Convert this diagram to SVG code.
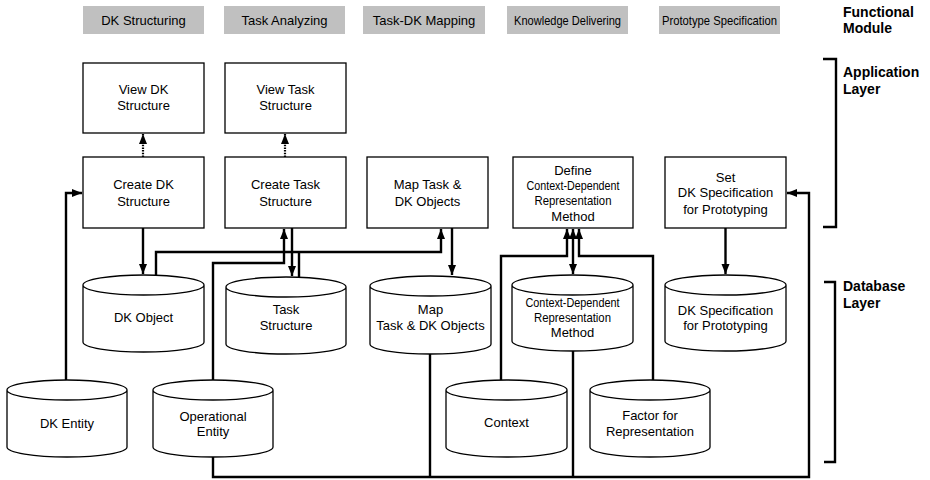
<svg xmlns="http://www.w3.org/2000/svg" width="930" height="480" viewBox="0 0 930 480">
<style>
text{font-family:"Liberation Sans",Arial,sans-serif;font-size:13px;fill:#000;text-anchor:middle}
.mod rect{fill:#c0c0c0;stroke:none}
.lbl{font-weight:bold;font-size:14px;text-anchor:start}
.box{fill:#fff;stroke:#000;stroke-width:1.3}
.cyl{fill:#fff;stroke:#000;stroke-width:1.3}
.c{fill:none;stroke:#000;stroke-width:2.4}
.dot{fill:none;stroke:#000;stroke-width:2.2;stroke-dasharray:1.5,1.2}
.br{fill:none;stroke:#000;stroke-width:2.4}
</style>
<defs>
<marker id="ah" markerUnits="userSpaceOnUse" markerWidth="10" markerHeight="10" viewBox="0 0 10 10" refX="10" refY="5" orient="auto-start-reverse">
<path d="M0,1 L10,5 L0,9 Z" fill="#000"/>
</marker>
</defs>
<rect width="930" height="480" fill="#fff"/>

<g id="modules" class="mod">
<rect x="83" y="6" width="121" height="28"/><text x="143.5" y="25">DK Structuring</text>
<rect x="224" y="6" width="121" height="28"/><text x="284.5" y="25">Task Analyzing</text>
<rect x="363" y="6" width="122" height="28"/><text x="424" y="25">Task-DK Mapping</text>
<rect x="507" y="6" width="121" height="28"/><text x="567.5" y="25" font-size="12.5" textLength="107" lengthAdjust="spacingAndGlyphs">Knowledge Delivering</text>
<rect x="659" y="6" width="121" height="28"/><text x="719.5" y="25" font-size="12.5" textLength="115" lengthAdjust="spacingAndGlyphs">Prototype Specification</text>
</g>

<g id="labels">
<text class="lbl" x="843" y="17">Functional</text>
<text class="lbl" x="843" y="33">Module</text>
<text class="lbl" x="843" y="77">Application</text>
<text class="lbl" x="843" y="94">Layer</text>
<text class="lbl" x="843" y="291">Database</text>
<text class="lbl" x="843" y="308">Layer</text>
<path class="br" d="M823,59 H836 V227 H823"/>
<path class="br" d="M824,282 H835 V462 H824"/>
</g>

<g id="connectors">
<path class="dot" d="M143,157 V134" marker-end="url(#ah)"/>
<path class="dot" d="M285,157 V134" marker-end="url(#ah)"/>
<path class="c" d="M66,380 V193 H82" marker-end="url(#ah)"/>
<path class="c" d="M143,228 V274" marker-end="url(#ah)"/>
<path class="c" d="M156,276 V252 H441 V229" marker-end="url(#ah)"/>
<path class="c" d="M299,277 V252"/>
<path class="c" d="M213,380 V263 H284 V229" marker-end="url(#ah)"/>
<path class="c" d="M292,228 V276" marker-end="url(#ah)"/>
<path class="c" d="M452,228 V275" marker-end="url(#ah)"/>
<path class="c" d="M213,457 V477 H809 V193 H787" marker-end="url(#ah)"/>
<path class="c" d="M430,354 V477"/>
<path class="c" d="M573,351 V477"/>
<path class="c" d="M573,229 V274" marker-start="url(#ah)" marker-end="url(#ah)"/>
<path class="c" d="M501,380 V256 H567 V229" marker-end="url(#ah)"/>
<path class="c" d="M653,380 V256 H579 V229" marker-end="url(#ah)"/>
<path class="c" d="M725.5,228 V274" marker-end="url(#ah)"/>
</g>

<g id="view-dk"><rect class="box" x="83" y="63" width="121" height="70"/><text x="143.5" y="94">View DK</text><text x="143.5" y="110">Structure</text></g>
<g id="view-task"><rect class="box" x="225" y="63" width="121" height="70"/><text x="285.5" y="94">View Task</text><text x="285.5" y="110">Structure</text></g>
<g id="create-dk"><rect class="box" x="83" y="157" width="121" height="71"/><text x="143.5" y="189">Create DK</text><text x="143.5" y="206">Structure</text></g>
<g id="create-task"><rect class="box" x="225" y="157" width="121" height="71"/><text x="285.5" y="189">Create Task</text><text x="285.5" y="206">Structure</text></g>
<g id="map-task"><rect class="box" x="367" y="157" width="121" height="71"/><text x="427.5" y="189">Map Task &amp;</text><text x="427.5" y="206">DK Objects</text></g>
<g id="define-cdrm"><rect class="box" x="513" y="157" width="120" height="71"/>
<text x="573" y="175" font-size="12">Define</text>
<text x="573" y="190" font-size="12" textLength="93" lengthAdjust="spacingAndGlyphs">Context-Dependent</text>
<text x="573" y="205" font-size="12" textLength="77" lengthAdjust="spacingAndGlyphs">Representation</text>
<text x="573" y="221" font-size="12">Method</text></g>
<g id="set-dkspec"><rect class="box" x="665" y="157" width="121" height="71"/>
<text x="725.5" y="182">Set</text><text x="725.5" y="197" font-size="12.2">DK Specification</text><text x="725.5" y="214" font-size="12.2">for Prototyping</text></g>

<g id="dk-object"><path class="cyl" d="M83,285 A60.5,10 0 0 1 204,285 V342 A60.5,10 0 0 1 83,342 Z M83,285 A60.5,10 0 0 0 204,285"/><text x="143.5" y="322">DK Object</text></g>
<g id="task-structure"><path class="cyl" d="M226,287 A60,10 0 0 1 346,287 V344 A60,10 0 0 1 226,344 Z M226,287 A60,10 0 0 0 346,287"/><text x="286" y="314">Task</text><text x="286" y="330">Structure</text></g>
<g id="map-objects"><path class="cyl" d="M370,286 A60.5,10 0 0 1 491,286 V344 A60.5,10 0 0 1 370,344 Z M370,286 A60.5,10 0 0 0 491,286"/><text x="430.5" y="314">Map</text><text x="430.5" y="330">Task &amp; DK Objects</text></g>
<g id="cdrm"><path class="cyl" d="M512,285 A60.5,10 0 0 1 633,285 V341 A60.5,10 0 0 1 512,341 Z M512,285 A60.5,10 0 0 0 633,285"/>
<text x="572.5" y="307" font-size="12" textLength="94" lengthAdjust="spacingAndGlyphs">Context-Dependent</text>
<text x="572.5" y="322" font-size="12" textLength="77" lengthAdjust="spacingAndGlyphs">Representation</text>
<text x="572.5" y="337" font-size="12">Method</text></g>
<g id="dk-spec"><path class="cyl" d="M665,285 A60.5,10 0 0 1 786,285 V341 A60.5,10 0 0 1 665,341 Z M665,285 A60.5,10 0 0 0 786,285"/><text x="725.5" y="315">DK Specification</text><text x="725.5" y="330">for Prototyping</text></g>

<g id="dk-entity"><path class="cyl" d="M7,390 A60,10 0 0 1 127,390 V447 A60,10 0 0 1 7,447 Z M7,390 A60,10 0 0 0 127,390"/><text x="67" y="428">DK Entity</text></g>
<g id="operational-entity"><path class="cyl" d="M153,390 A60,10 0 0 1 273,390 V447 A60,10 0 0 1 153,447 Z M153,390 A60,10 0 0 0 273,390"/><text x="213" y="421">Operational</text><text x="213" y="436">Entity</text></g>
<g id="context"><path class="cyl" d="M446,390 A60.5,10 0 0 1 567,390 V447 A60.5,10 0 0 1 446,447 Z M446,390 A60.5,10 0 0 0 567,390"/><text x="506.5" y="427">Context</text></g>
<g id="factor"><path class="cyl" d="M590,390 A60,10 0 0 1 710,390 V447 A60,10 0 0 1 590,447 Z M590,390 A60,10 0 0 0 710,390"/><text x="650" y="420">Factor for</text><text x="650" y="436">Representation</text></g>
</svg>
